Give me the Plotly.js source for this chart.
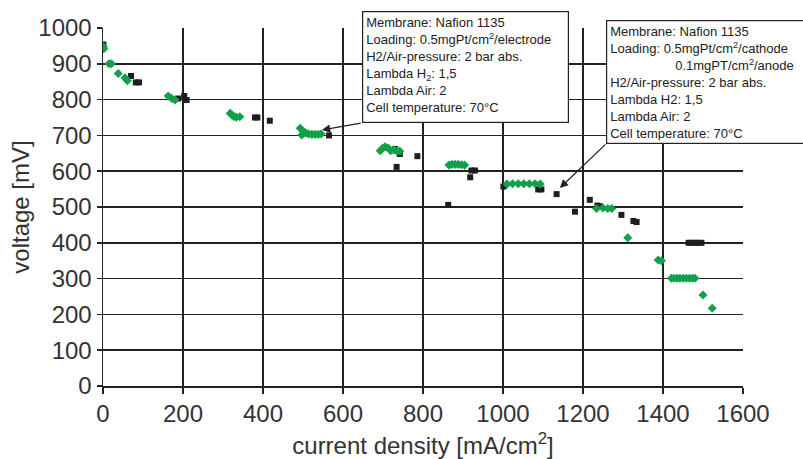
<!DOCTYPE html>
<html>
<head>
<meta charset="utf-8">
<script src="https://cdn.plot.ly/plotly-3.0.1.min.js"></script>
<style>html,body{margin:0;padding:0;background:#fff;}#chart{width:803px;height:459px;}</style>
</head>
<body>
<div id="chart"></div>
<script>
// Green series (0.5 mgPt/cm2/electrode)
const greenX = [1, 2, 15, 21, 38, 55, 61, 163, 172, 180, 318, 322, 327, 333, 342,
  493, 497, 501, 507, 514, 522, 530, 538, 545,
  693, 699, 705, 713, 719, 727, 735, 742,
  865, 872, 880, 888, 896, 904,
  1010, 1024, 1038, 1052, 1066, 1080, 1093,
  1234, 1250, 1262, 1272, 1312, 1388, 1396,
  1421, 1428, 1435, 1442, 1450, 1458, 1466, 1474, 1480, 1500, 1523];
const greenY = [948, 942, 900, 900, 873, 861, 853, 810, 803, 799, 762, 757, 753, 751, 752,
  720, 701, 711, 707, 704, 703, 703, 703, 704,
  657, 664, 668, 665, 657, 660, 656, 656,
  617, 619, 619, 619, 618, 617,
  564, 565, 565, 565, 565, 565, 564,
  496, 497, 496, 496, 414, 352, 350,
  301, 301, 301, 301, 301, 301, 301, 301, 301, 254, 217];
// Black series (0.5 cathode / 0.1 anode)
const blackX = [1, 70, 82, 90, 188, 203, 209, 380, 386, 417, 565,
  730, 742, 734, 786, 863, 918, 921, 930, 1001, 1088, 1096, 1134,
  1180, 1217, 1236, 1242, 1296, 1326, 1334, 1464, 1472, 1480, 1488, 1496];
const blackY = [954, 866, 848, 848, 803, 810, 799, 750, 750, 741, 700,
  662, 648, 612, 642, 506, 583, 602, 602, 557, 549, 549, 536,
  487, 520, 504, 502, 478, 461, 458, 400, 400, 400, 400, 400];

const xTicks = [0, 200, 400, 600, 800, 1000, 1200, 1400, 1600];
const yTicks = [0, 100, 200, 300, 400, 500, 600, 700, 800, 900, 1000];

const box1 = ["Membrane: Nafion 1135", "Loading: 0.5mgPt/cm<sup>2</sup>/electrode",
  "H2/Air-pressure: 2 bar abs.", "Lambda H<sub>2</sub>: 1,5", "Lambda Air: 2", "Cell temperature: 70°C"];
const box2 = ["Membrane: Nafion 1135", "Loading: 0.5mgPt/cm<sup>2</sup>/cathode",
  "\u00a0\u00a0\u00a0\u00a0\u00a0\u00a0\u00a0\u00a0\u00a0\u00a0\u00a0\u00a0\u00a0\u00a0\u00a0\u00a0\u00a0\u00a00.1mgPT/cm<sup>2</sup>/anode",
  "H2/Air-pressure: 2 bar abs.", "Lambda H2: 1,5", "Lambda Air: 2", "Cell temperature: 70°C"];

const dark = '#222';
const fontFam = 'Liberation Sans, Arial, sans-serif';

const traces = [
  {x: blackX, y: blackY, type: 'scatter', mode: 'markers', name: 'black',
   marker: {symbol: 'square', size: 6, color: '#1e1e1e'}},
  {x: greenX, y: greenY, type: 'scatter', mode: 'markers', name: 'green',
   marker: {symbol: 'diamond', size: 7, color: '#12a04a'}}
];

const annFont = {family: fontFam, size: 13, color: dark};
const layout = {
  width: 803, height: 459,
  margin: {l: 103, r: 60, t: 28, b: 73},
  paper_bgcolor: '#fff', plot_bgcolor: '#fff',
  showlegend: false,
  font: {family: fontFam, color: '#333'},
  xaxis: {range: [0, 1600], tickvals: xTicks, ticktext: xTicks.map(String),
    showgrid: true, gridcolor: dark, gridwidth: 1.5, zeroline: false,
    showline: true, linecolor: dark, linewidth: 1.5,
    ticks: 'outside', ticklen: 6, tickcolor: dark, tickwidth: 1.5,
    tickfont: {size: 24, color: '#333', family: fontFam},
    title: {text: 'current density [mA/cm<sup>2</sup>]', font: {size: 24, color: '#333', family: fontFam}, standoff: 11},
    automargin: false},
  yaxis: {range: [0, 1000], tickvals: yTicks, ticktext: yTicks.map(String),
    showgrid: true, gridcolor: dark, gridwidth: 1.5, zeroline: false,
    showline: true, linecolor: dark, linewidth: 1.5,
    ticks: 'outside', ticklen: 5, tickcolor: dark, tickwidth: 1.5,
    tickfont: {size: 24, color: '#333', family: fontFam},
    title: {text: 'voltage [mV]', font: {size: 24, color: '#333', family: fontFam}, standoff: 2},
    automargin: false},
  annotations: [
    {xref: 'paper', yref: 'paper', x: (362 - 103) / 640, y: (386 - 11) / 358,
     xanchor: 'left', yanchor: 'top', align: 'left', valign: 'top',
     width: 199, height: 104,
     text: box1.join('<br>'), showarrow: false, font: annFont,
     bgcolor: '#fff', bordercolor: dark, borderwidth: 1.2, borderpad: 3},
    {xref: 'paper', yref: 'paper', x: (606 - 103) / 640, y: (386 - 20) / 358,
     xanchor: 'left', yanchor: 'top', align: 'left', valign: 'top',
     width: 215, height: 116,
     text: box2.join('<br>'), showarrow: false, font: annFont,
     bgcolor: '#fff', bordercolor: dark, borderwidth: 1.2, borderpad: 3},
    {xref: 'x', yref: 'y', x: 547, y: 715, axref: 'x', ayref: 'y', ax: 648, ay: 735,
     text: '', showarrow: true, arrowhead: 2, arrowsize: 1.4, arrowwidth: 1.2, arrowcolor: dark},
    {xref: 'x', yref: 'y', x: 1142, y: 553, axref: 'x', ayref: 'y', ax: 1260, ay: 679,
     text: '', showarrow: true, arrowhead: 2, arrowsize: 1.4, arrowwidth: 1.2, arrowcolor: dark}
  ]
};

Plotly.newPlot('chart', traces, layout, {staticPlot: true, displayModeBar: false});
</script>
</body>
</html>
